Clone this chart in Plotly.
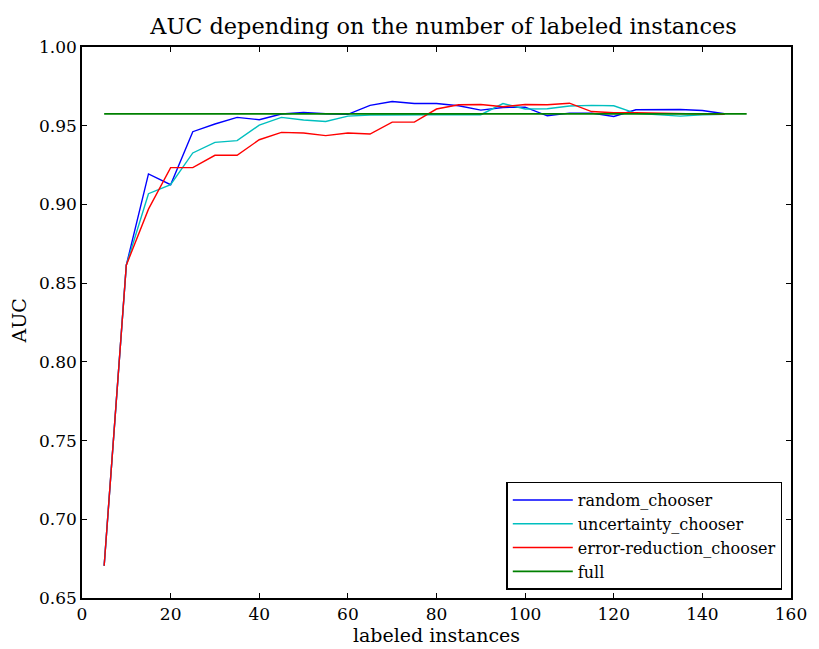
import plotly.graph_objects as go

x_vals = [5, 10, 15, 20, 25, 30, 35, 40, 45, 50, 55, 60, 65, 70, 75, 80, 85, 90, 95,
          100, 105, 110, 115, 120, 125, 130, 135, 140, 145]
random_auc = [0.6705, 0.8614, 0.9194, 0.9125, 0.9462, 0.9511, 0.9553, 0.9538, 0.9574, 0.9584,
              0.9576, 0.9572, 0.9629, 0.9654, 0.9641, 0.9641, 0.9627, 0.9599, 0.9616,
              0.9618, 0.9563, 0.9580, 0.9580, 0.9559, 0.9601, 0.9601, 0.9603, 0.9597, 0.9576]
uncertainty_auc = [0.6705, 0.8614, 0.9068, 0.9125, 0.9327, 0.9394, 0.9405, 0.9504, 0.9553, 0.9536,
                   0.9527, 0.9561, 0.9568, 0.9570, 0.9570, 0.9570, 0.9570, 0.9570, 0.9641,
                   0.9606, 0.9608, 0.9625, 0.9629, 0.9627, 0.9578, 0.9570, 0.9561, 0.9570, 0.9572]
error_reduction_auc = [0.6705, 0.8614, 0.8970, 0.9234, 0.9234, 0.9312, 0.9312, 0.9411, 0.9458, 0.9454,
                       0.9437, 0.9454, 0.9447, 0.9523, 0.9523, 0.9606, 0.9633, 0.9635, 0.9620,
                       0.9635, 0.9633, 0.9643, 0.9590, 0.9582, 0.9582, 0.9580, 0.9575, 0.9572, 0.9572]
full_x = [5, 150]
full_auc = [0.9575, 0.9575]

x_ticks = [0, 20, 40, 60, 80, 100, 120, 140, 160]
y_ticks = [0.65, 0.70, 0.75, 0.80, 0.85, 0.90, 0.95, 1.00]

FONT = "DejaVu Serif"

fig = go.Figure()
fig.add_trace(go.Scatter(x=x_vals, y=random_auc, mode="lines", name="random_chooser",
                         line=dict(color="#0000ff", width=1.4)))
fig.add_trace(go.Scatter(x=x_vals, y=uncertainty_auc, mode="lines", name="uncertainty_chooser",
                         line=dict(color="#00bfbf", width=1.4)))
fig.add_trace(go.Scatter(x=x_vals, y=error_reduction_auc, mode="lines", name="error-reduction_chooser",
                         line=dict(color="#ff0000", width=1.4)))
fig.add_trace(go.Scatter(x=full_x, y=full_auc, mode="lines", name="full",
                         line=dict(color="#008000", width=1.6)))

fig.update_layout(
    width=819, height=649,
    margin=dict(l=82, r=23, t=47, b=49),
    paper_bgcolor="white", plot_bgcolor="white",
    font=dict(family=FONT, size=17, color="black"),
    title=dict(text="AUC depending on the number of labeled instances",
               x=443.5 / 819, xanchor="center", y=1 - 26 / 649, yanchor="middle",
               font=dict(family=FONT, size=22.4, color="black")),
    showlegend=True,
    legend=dict(x=0.988, xanchor="right", y=0.015, yanchor="bottom",
                bgcolor="white", bordercolor="black", borderwidth=1.3,
                font=dict(family=FONT, size=16, color="black"),
                tracegroupgap=0, itemwidth=60),
    annotations=[dict(text="AUC", textangle=-90, xref="paper", yref="paper",
                      x=(19 - 82) / 714, y=(600 - 322) / 553, xanchor="center", yanchor="middle",
                      showarrow=False, font=dict(family=FONT, size=19, color="black"))],
)
fig.update_xaxes(
    range=[0, 160], tickvals=x_ticks, ticktext=[str(v) for v in x_ticks],
    showgrid=False, zeroline=False, showline=True, linecolor="black", linewidth=1.5,
    mirror="ticks", ticks="inside", ticklen=5, tickcolor="black", tickwidth=1,
    title=dict(text="labeled instances", font=dict(family=FONT, size=19), standoff=0),
    tickfont=dict(family=FONT, size=17),
)
fig.update_yaxes(
    range=[0.65, 1.00], tickvals=y_ticks, ticktext=[f"{v:.2f}" for v in y_ticks],
    showgrid=False, zeroline=False, showline=True, linecolor="black", linewidth=1.5,
    mirror="ticks", ticks="inside", ticklen=5, tickcolor="black", tickwidth=1,
    tickfont=dict(family=FONT, size=17),
)

fig.write_html("out.html")
